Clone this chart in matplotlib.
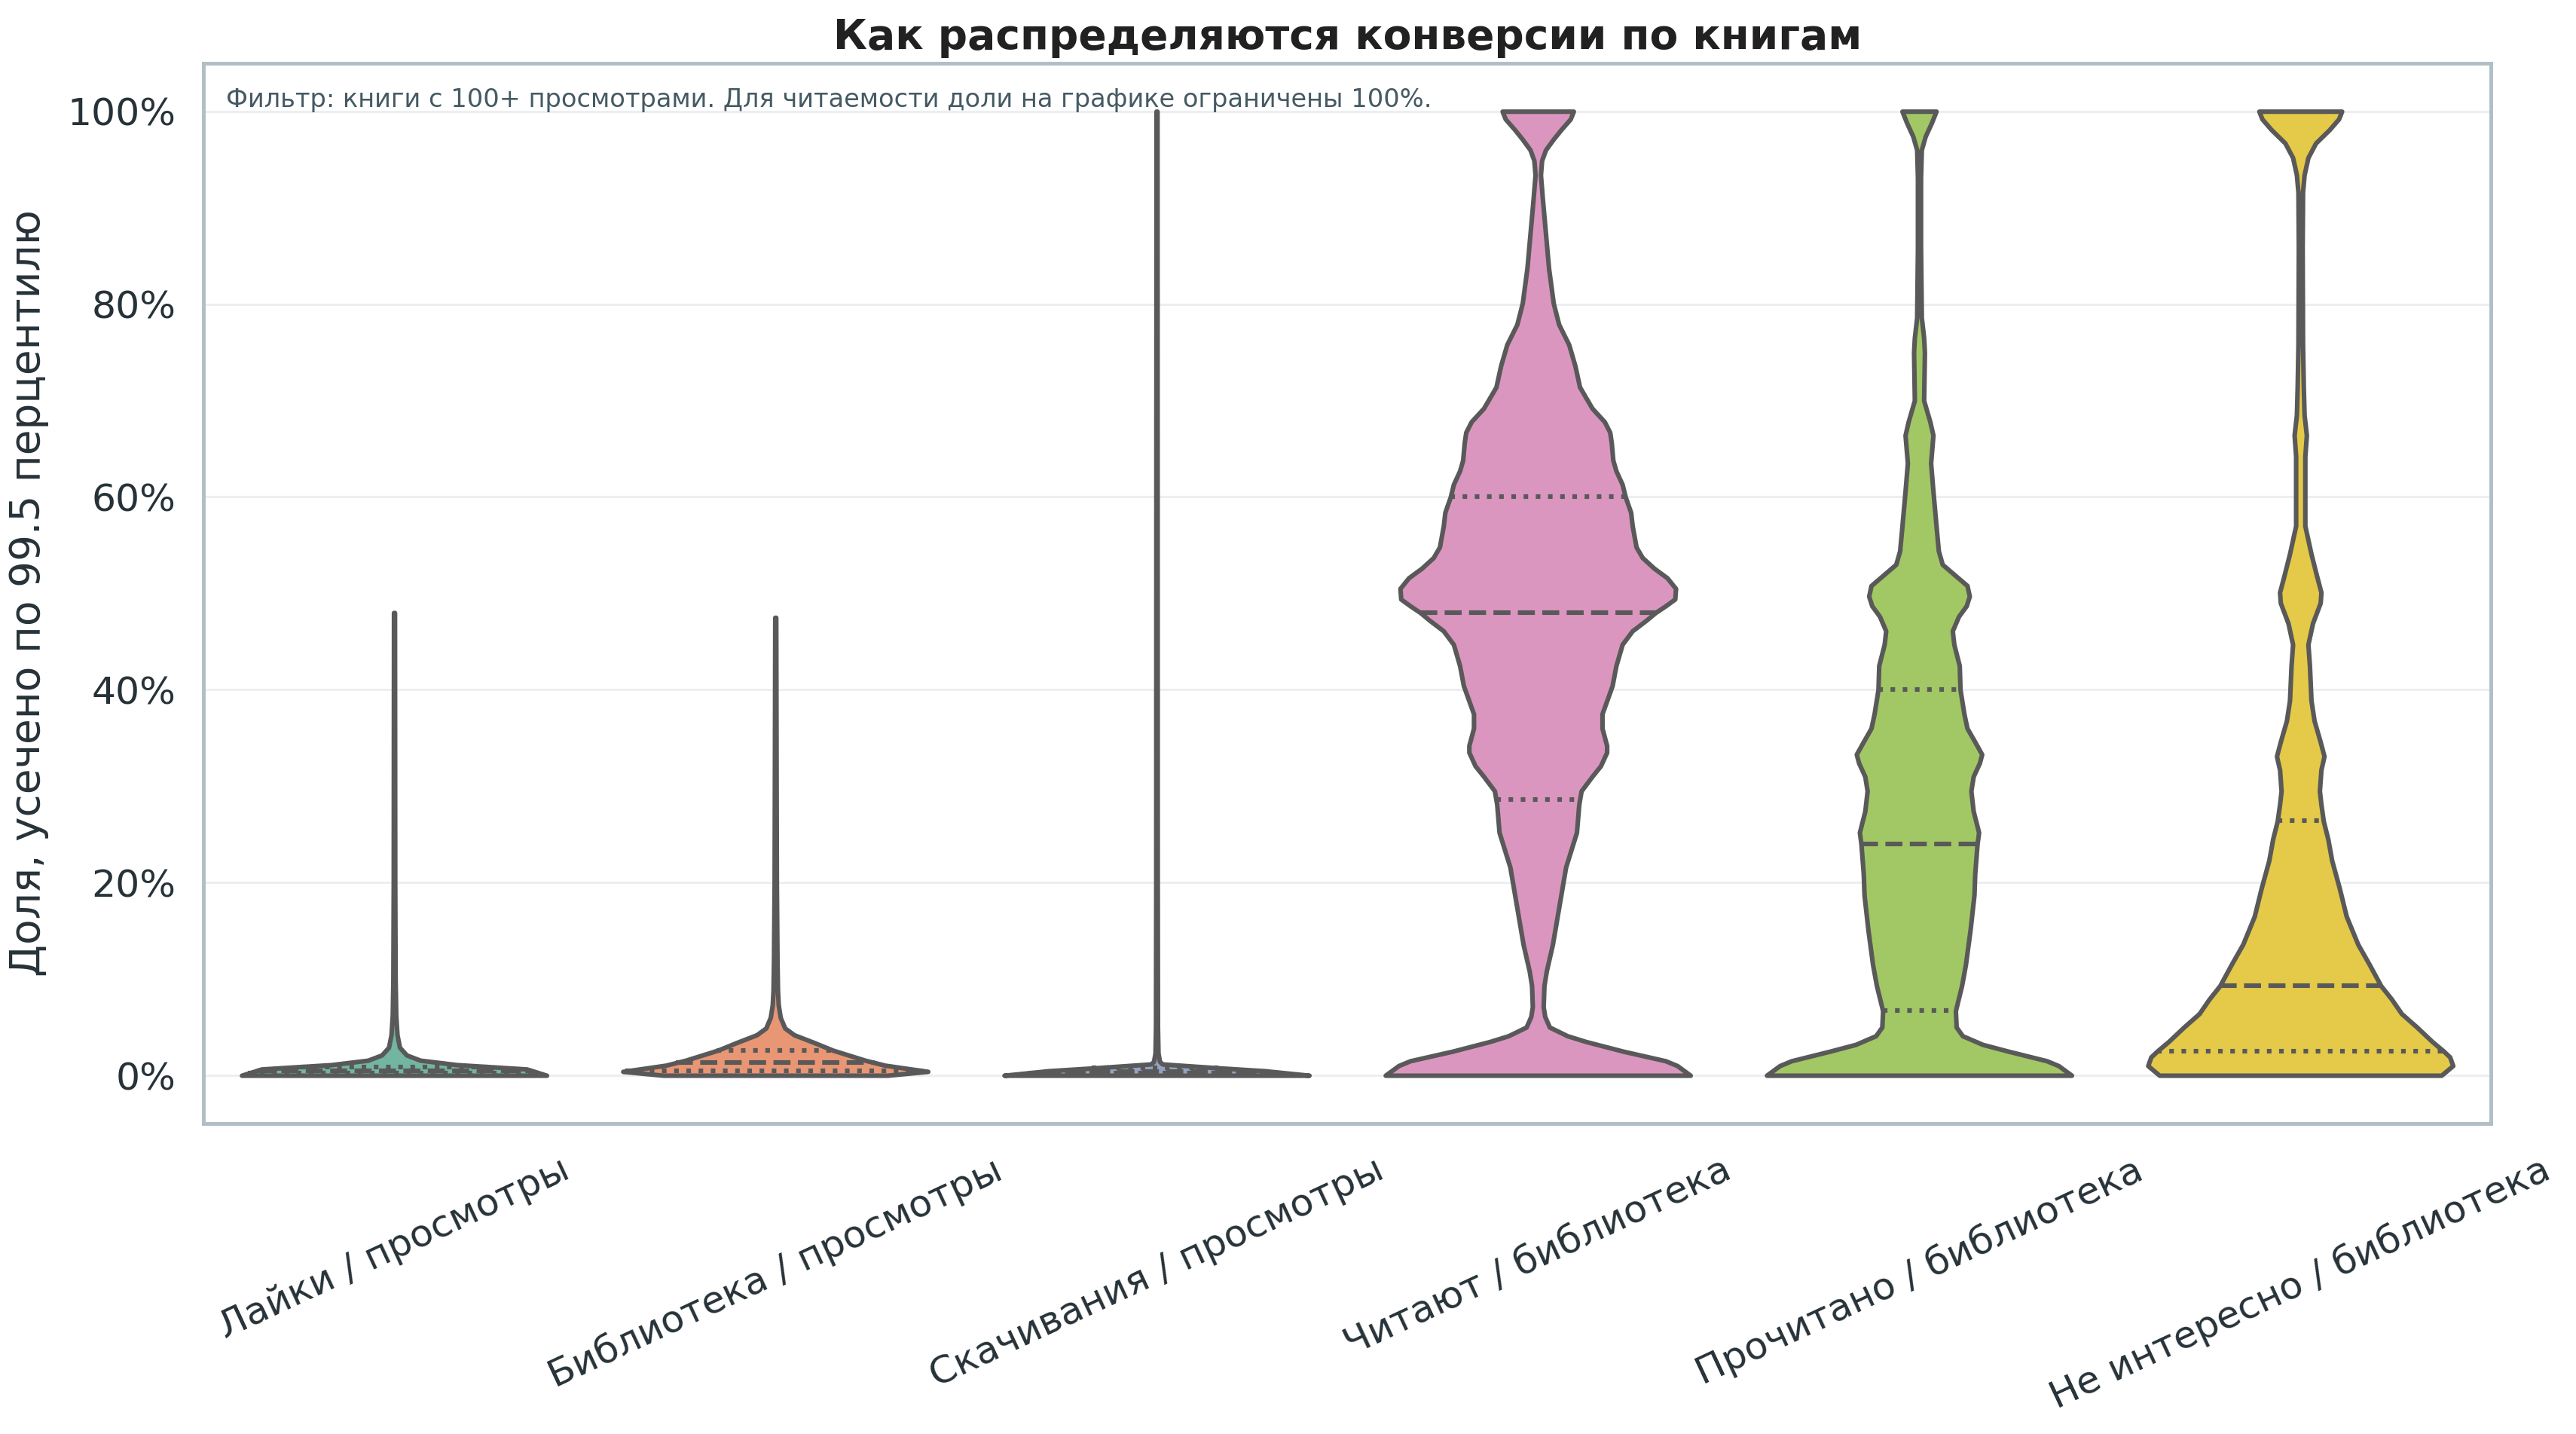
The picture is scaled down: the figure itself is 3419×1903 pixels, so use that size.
import colorsys

import matplotlib
matplotlib.use("Agg")
import matplotlib.pyplot as plt
import numpy as np
from matplotlib.ticker import PercentFormatter

# --- data ---
categories = [
    "Лайки / просмотры",
    "Библиотека / просмотры",
    "Скачивания / просмотры",
    "Читают / библиотека",
    "Прочитано / библиотека",
    "Не интересно / библиотека",
]

# violin outlines: share level -> relative density (any unit, normalised per violin)
likes_y = [0, .0065, .011, .0156, .021, .029, .042, .062, .10, .20, .48]
likes_d = [612, 532, 252, 105, 50, 22, 12, 7, 4.5, 3, 2]

library_y = [0, .004, .0104, .0156, .026, .034, .042, .049, .060, .073, .088, .119, .2, .3, .475]
library_d = [450, 612, 440, 360, 231, 155, 75, 38, 20, 12, 9, 7, 4.5, 3.5, 2]

downloads_y = [0, .0047, .008, .0117, .0143, .023, .05, .2, 1.0]
downloads_d = [612, 433, 230, 23, 12, 6, 4, 3, 2]

reading_y = [0, .010, .015, .025, .035, .041, .050, .061, .071, .093, .108, .136, .169,
             .216, .252, .281, .295, .310, .321, .335, .342, .360, .375, .404, .425,
             .447, .461, .472, .480, .487, .494, .505, .516, .526, .537, .548, .570,
             .584, .600, .613, .627, .638, .656, .667, .678, .692, .714, .736, .758,
             .779, .801, .837, .873, .909, .934, .949, .960, .971, .981, .992, 1.0]
reading_d = [197, 180, 165, 110, 62, 38, 15, 9, 7, 8, 11, 19, 26,
             36, 50, 53, 56, 70, 81, 89, 89, 83, 83, 96, 101,
             109, 122, 140, 152, 165, 177, 178, 167, 150, 135, 127, 122,
             120, 113, 109, 101, 97, 95, 93, 86, 70, 54, 48, 40,
             27, 20, 14, 10, 6, 3.5, 5, 10, 20, 30, 42, 46]

finished_y = [0, .010, .015, .025, .032, .041, .050, .067, .093, .115, .151, .187, .209,
              .240, .252, .274, .295, .310, .324, .333, .346, .360, .375, .400, .425,
              .447, .461, .476, .487, .497, .508, .519, .530, .544, .570, .606, .635,
              .664, .678, .700, .750, .765, .786, .858, .931, .960, .974, .988, 1.0]
finished_d = [197, 180, 165, 115, 82, 56, 48, 47, 55, 60, 66, 71, 72,
              75, 77, 70, 67, 70, 78, 81, 72, 62, 58, 53, 52,
              45, 43, 51, 61, 65, 62, 46, 30, 25, 22, 18, 15,
              18, 14, 6, 7, 6, 3, 2, 2, 3, 8, 16, 22]

dropped_y = [0, .010, .019, .025, .035, .050, .064, .079, .093, .115, .136, .165, .194,
             .223, .245, .264, .281, .295, .317, .331, .346, .368, .389, .425, .447,
             .469, .490, .501, .519, .541, .570, .606, .642, .664, .685, .714, .758,
             .858, .916, .934, .952, .967, .981, .992, 1.0]
dropped_d = [184, 199, 195, 187, 172, 152, 132, 119, 105, 90, 75, 60, 51,
             41, 36, 30, 27, 25, 27, 31, 26, 18, 14, 12, 10,
             16, 26, 27, 21, 14, 6, 6, 6, 8, 5, 4, 3,
             2.5, 3, 5, 10, 20, 38, 50, 54]

# quartiles (q1, median, q3)
likes_q = [.002, .005, .009]
library_q = [.0044, .013, .0255]
downloads_q = [.0026, .0042, .0075]
reading_q = [.286, .480, .600]
finished_q = [.067, .240, .400]
dropped_q = [.025, .093, .264]

profiles = [
    (likes_y, likes_d, likes_q),
    (library_y, library_d, library_q),
    (downloads_y, downloads_d, downloads_q),
    (reading_y, reading_d, reading_q),
    (finished_y, finished_d, finished_q),
    (dropped_y, dropped_d, dropped_q),
]

SET2 = ["#66c2a5", "#fc8d62", "#8da0cb", "#e78ac3", "#a6d854", "#ffd92f"]
LINE_COLOR = "#595959"
LINE_W = 2.0
VIOLIN_WIDTH = 0.8


def desaturate(hex_color, prop=0.75):
    rgb = matplotlib.colors.to_rgb(hex_color)
    h, l, s = colorsys.rgb_to_hls(*rgb)
    return colorsys.hls_to_rgb(h, l, s * prop)


fig = plt.figure(figsize=(3419 / 220, 1903 / 220), dpi=220)
ax = fig.add_axes([0.079, 0.2165, 0.888, 0.7395])

for i, (ys, ds, qs) in enumerate(profiles):
    ys = np.asarray(ys, dtype=float)
    ds = np.asarray(ds, dtype=float)
    half = ds / ds.max() * VIOLIN_WIDTH / 2
    ax.fill_betweenx(ys, i - half, i + half, facecolor=desaturate(SET2[i]),
                     edgecolor=LINE_COLOR, linewidth=LINE_W, zorder=2)
    for q, ls in zip(qs, [":", "--", ":"]):
        w = np.interp(q, ys, half)
        ax.plot([i - w, i + w], [q, q], color=LINE_COLOR, linestyle=ls,
                linewidth=LINE_W, zorder=3)

ax.set_xlim(-0.5, len(categories) - 0.5)
ax.set_ylim(-0.05, 1.05)
ax.set_xticks(range(len(categories)))
ax.set_xticklabels(categories, rotation=25, fontsize=16.5, color="#263238")
ax.set_yticks([0, 0.2, 0.4, 0.6, 0.8, 1.0])
ax.yaxis.set_major_formatter(PercentFormatter(1.0, decimals=0))
ax.tick_params(axis="y", labelsize=16.5, labelcolor="#263238", length=0, pad=12)
ax.tick_params(axis="x", length=0, pad=12)

ax.grid(axis="y", color="#eceff1", linewidth=1.0, zorder=0)
ax.set_axisbelow(True)
for sp in ax.spines.values():
    sp.set_color("#b0bec5")
    sp.set_linewidth(1.6)

ax.set_ylabel("Доля, усечено по 99.5 перцентилю", fontsize=18, color="#263238", labelpad=8)
ax.set_title("Как распределяются конверсии по книгам", fontsize=18, fontweight="bold",
             color="#212121", pad=6)
ax.text(0.01, 0.977, "Фильтр: книги с 100+ просмотрами. Для читаемости доли на графике ограничены 100%.",
        transform=ax.transAxes, fontsize=11, color="#455a64", va="top", ha="left")

fig.savefig("out.png", dpi=220)
